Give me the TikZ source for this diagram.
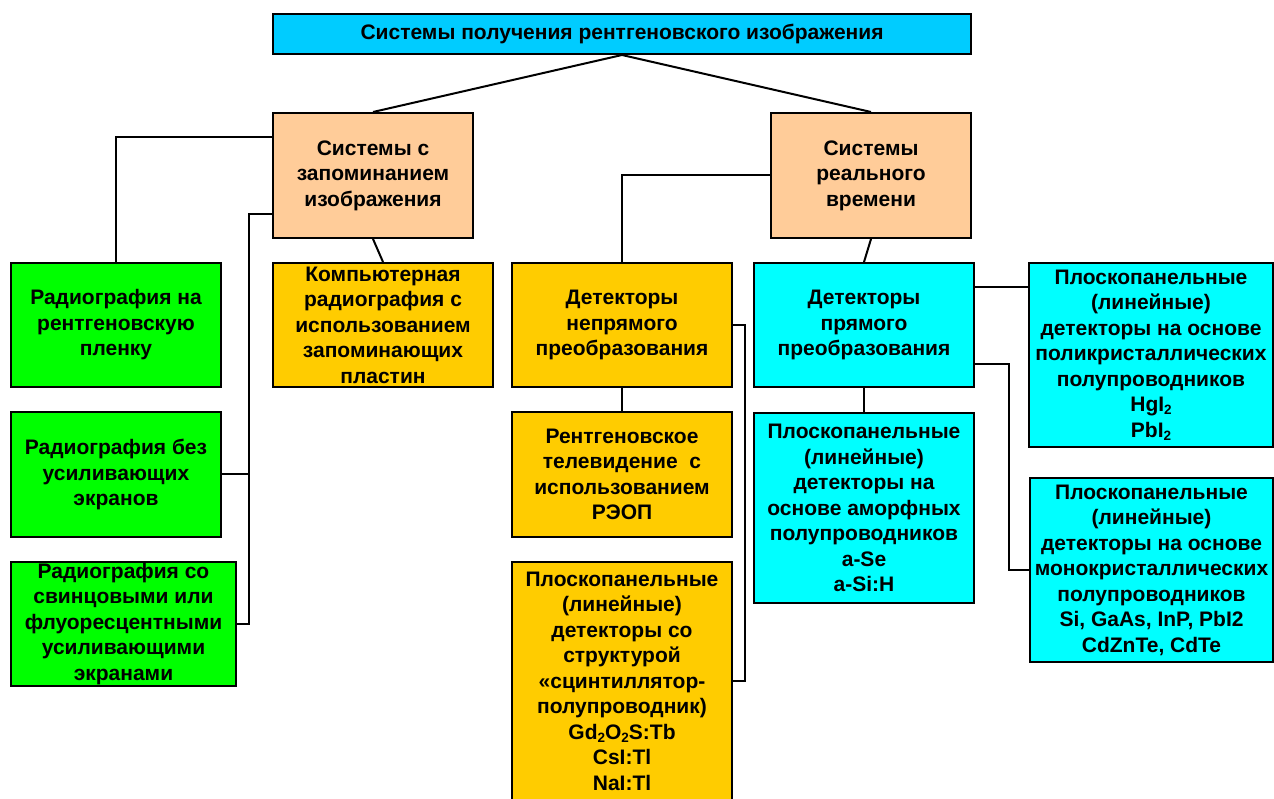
\documentclass[tikz,border=0pt]{standalone}
\usepackage{fontspec}
\setmainfont{Liberation Sans}
\usetikzlibrary{calc}

\definecolor{titleblue}{HTML}{00CCFF}
\definecolor{peach}{HTML}{FFCC99}
\definecolor{leafgreen}{HTML}{00FF00}
\definecolor{goldbox}{HTML}{FFCC00}
\definecolor{cyanbox}{HTML}{00FFFF}

% lowered small digit for chemical formulas
\newcommand\lowsub[1]{\raisebox{-0.3ex}{\fontsize{13.5}{13.5}\selectfont #1}}

\tikzset{
  box/.style={draw=black, line width=2pt, align=center, inner sep=0pt,
    font=\bfseries\fontsize{21}{25.5}\selectfont},
  link/.style={draw=black, line width=2pt}
}

\begin{document}
\begin{tikzpicture}[x=1pt,y=1pt]
\useasboundingbox (0,0) rectangle (1274,798);
\clip (0,0) rectangle (1274,798);
\fill[white] (0,0) rectangle (1274,798);

% root
\node[box, fill=titleblue, minimum width=698, minimum height=40] (top) at (622,764)
  {Системы получения рентгеновского изображения};

% two main classes
\node[box, fill=peach, minimum width=200, minimum height=125] (memL) at (373,622.5)
  {Системы с\\запоминанием\\изображения};
\node[box, fill=peach, minimum width=200, minimum height=125] (memR) at (871,622.5)
  {Системы\\реального\\времени};

% storage systems
\node[box, fill=leafgreen, minimum width=210, minimum height=124] (g1) at (116,473)
  {Радиография на\\рентгеновскую\\пленку};
\node[box, fill=leafgreen, minimum width=210, minimum height=125] (g2) at (116,323.5)
  {Радиография без\\усиливающих\\экранов};
\node[box, fill=leafgreen, minimum width=225, minimum height=124] (g3) at (123.5,174)
  {Радиография со\\свинцовыми или\\флуоресцентными\\усиливающими\\экранами};
\node[box, fill=goldbox, minimum width=220, minimum height=124] (comp) at (383,473)
  {Компьютерная\\радиография с\\использованием\\запоминающих\\пластин};

% indirect conversion
\node[box, fill=goldbox, minimum width=220, minimum height=124] (ind) at (622,473)
  {Детекторы\\непрямого\\преобразования};
\node[box, fill=goldbox, minimum width=220, minimum height=125] (rtv) at (622,323.5)
  {Рентгеновское\\телевидение~~с\\использованием\\РЭОП};
\node[box, fill=goldbox, minimum width=220, minimum height=238] (scint) at (622,117)
  {Плоскопанельные\\(линейные)\\детекторы со\\структурой\\«сцинтиллятор-\\полупроводник)\\Gd\lowsub{2}O\lowsub{2}S:Tb\\CsI:Tl\\NaI:Tl};

% direct conversion
\node[box, fill=cyanbox, minimum width=220, minimum height=124] (direct) at (864,473)
  {Детекторы\\прямого\\преобразования};
\node[box, fill=cyanbox, minimum width=220, minimum height=190] (amorph) at (864,290)
  {Плоскопанельные\\(линейные)\\детекторы на\\основе аморфных\\полупроводников\\a-Se\\a-Si:H};
\node[box, fill=cyanbox, minimum width=244, minimum height=184] (poly) at (1151,443)
  {Плоскопанельные\\(линейные)\\детекторы на основе\\поликристаллических\\полупроводников\\HgI\lowsub{2}\\PbI\lowsub{2}};
\node[box, fill=cyanbox, minimum width=243, minimum height=184] (mono) at (1151.5,228)
  {Плоскопанельные\\(линейные)\\детекторы на основе\\монокристаллических\\полупроводников\\Si, GaAs, InP, PbI2\\CdZnTe, CdTe};

% connectors
\draw[link] (top.south) -- (memL.north);
\draw[link] (top.south) -- (memR.north);

\draw[link] ([yshift=-25pt]memL.north west) -| (g1.north);
\draw[link] ([yshift=25pt]memL.south west) -| ([xshift=12pt]g3.east) coordinate (lbus) -- (g3.east);
\draw[link] (g2.east) -- (g2.east -| lbus);
\draw[link] (memL.south) -- (comp.north);

\draw[link] (memR.west) -| (ind.north);
\draw[link] (ind.south) -- (rtv.north);
\draw[link] (ind.east) -- ++(12,0) |- (scint.east);

\draw[link] (memR.south) -- (direct.north);
\draw[link] (direct.south) -- (amorph.north);
\draw[link] ([yshift=-25pt]direct.north east) coordinate (d1) -- (d1 -| poly.west);
\draw[link] ([yshift=24pt]direct.south east) -- ++(34,0) |- (mono.west);
\end{tikzpicture}
\end{document}
